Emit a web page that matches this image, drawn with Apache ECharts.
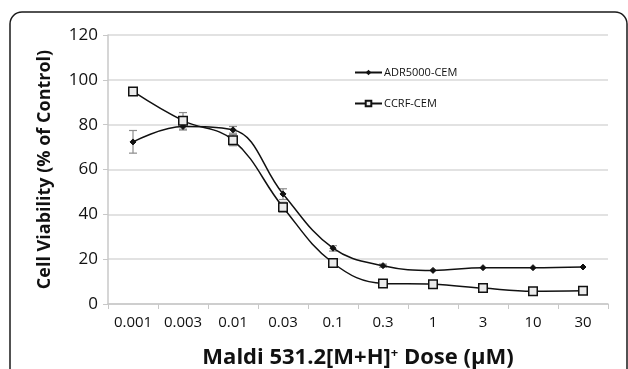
<!DOCTYPE html>
<html>
<head>
<meta charset="utf-8">
<script src="https://cdn.jsdelivr.net/npm/echarts@6/dist/echarts.min.js"></script>
<style>
  html, body { margin: 0; padding: 0; background: #fff; }
  #chart { width: 628px; height: 369px; }
</style>
</head>
<body>
<div id="chart"></div>
<script>
// dose categories (µM)
var doses = ['0.001', '0.003', '0.01', '0.03', '0.1', '0.3', '1', '3', '10', '30'];
// cell viability (% of control)
var adrValues = [72.3, 79.2, 77.7, 49.1, 24.9, 17.1, 15.0, 16.2, 16.2, 16.5];
var ccrfValues = [94.8, 81.8, 73.1, 43.2, 18.3, 9.2, 8.8, 7.1, 5.7, 5.9];
// error bars [category index, low, high]
var adrErrors = [[0, 67.3, 77.4], [1, 77.6, 80.6], [2, 76.2, 79.2], [3, 46.6, 51.4], [4, 23.6, 26.0], [5, 16.4, 17.8]];
var ccrfErrors = [[1, 78.0, 85.4], [2, 70.6, 75.6], [3, 41.0, 45.4], [4, 17.4, 19.2]];
var yTicks = [0, 20, 40, 60, 80, 100, 120];

var chart = echarts.init(document.getElementById('chart'));

// 误差线
function errorBar(params, api) {
  var x = api.value(0);
  var lo = api.coord([x, api.value(1)]);
  var hi = api.coord([x, api.value(2)]);
  var half = 4;
  var style = { stroke: '#8c8c8c', lineWidth: 1.2 };
  return {
    type: 'group',
    children: [
      { type: 'line', shape: { x1: lo[0], y1: lo[1], x2: hi[0], y2: hi[1] }, style: style },
      { type: 'line', shape: { x1: lo[0] - half, y1: lo[1], x2: lo[0] + half, y2: lo[1] }, style: style },
      { type: 'line', shape: { x1: hi[0] - half, y1: hi[1], x2: hi[0] + half, y2: hi[1] }, style: style }
    ]
  };
}

var option = {
  backgroundColor: '#fff',
  animation: false,
  textStyle: { fontFamily: 'Open Sans' },
  graphic: [
    {
      type: 'rect',
      shape: { x: 10, y: 12, width: 617, height: 420, r: 12 },
      style: { fill: 'none', stroke: '#1a1a1a', lineWidth: 1.5 },
      z: 0
    }
  ],
  legend: {
    orient: 'vertical',
    left: 349,
    top: 62,
    itemGap: 20,
    itemWidth: 27,
    itemHeight: 7,
    textStyle: { fontSize: 11, color: '#111', fontFamily: 'Open Sans', padding: [0, 0, 0, -3] },
    data: ['ADR5000-CEM', 'CCRF-CEM']
  },
  grid: { left: 108, right: 20, top: 35, bottom: 65, outerBoundsMode: 'none' },
  xAxis: {
    type: 'category',
    data: doses,
    boundaryGap: true,
    name: 'Maldi 531.2[M+H]{sup|+} Dose (µM)',
    nameLocation: 'middle',
    nameGap: 43,
    nameTextStyle: {
      fontSize: 22,
      fontWeight: 'bold',
      color: '#111',
      rich: { sup: { fontSize: 13, fontWeight: 'bold', verticalAlign: 'top', padding: [0, 0, 9, 0] } }
    },
    axisLine: { lineStyle: { color: '#c8c8c8', width: 1.5 } },
    axisTick: { show: true, length: 5, lineStyle: { color: '#c8c8c8' } },
    axisLabel: { fontSize: 15, color: '#111', margin: 11 }
  },
  yAxis: {
    type: 'value',
    min: 0,
    max: 120,
    interval: 20,
    name: 'Cell Viability (% of Control)',
    nameLocation: 'middle',
    nameGap: 54,
    nameTextStyle: { fontSize: 18, fontWeight: 'bold', color: '#111' },
    axisLine: { show: true, lineStyle: { color: '#c8c8c8', width: 1.5 } },
    axisTick: { show: true, length: 5, lineStyle: { color: '#c8c8c8' } },
    axisLabel: { fontSize: 17, color: '#111', margin: 10 },
    splitLine: { lineStyle: { color: '#d9d9d9', width: 1.5 } }
  },
  series: [
    {
      name: 'ADR5000-CEM',
      type: 'line',
      data: adrValues,
      smooth: 0.4,
      symbol: 'diamond',
      symbolSize: 6,
      lineStyle: { color: '#111', width: 1.5 },
      itemStyle: { color: '#111', borderColor: '#111' },
      z: 3
    },
    {
      name: 'CCRF-CEM',
      type: 'line',
      data: ccrfValues,
      smooth: 0.4,
      symbol: 'rect',
      symbolSize: 8.5,
      lineStyle: { color: '#111', width: 1.5 },
      itemStyle: { color: '#ececec', borderColor: '#111', borderWidth: 1.5 },
      z: 3
    },
    {
      type: 'custom',
      renderItem: errorBar,
      data: adrErrors,
      encode: { x: 0, y: [1, 2] },
      z: 2
    },
    {
      type: 'custom',
      renderItem: errorBar,
      data: ccrfErrors,
      encode: { x: 0, y: [1, 2] },
      z: 2
    }
  ]
};

chart.setOption(option);
</script>
</body>
</html>
